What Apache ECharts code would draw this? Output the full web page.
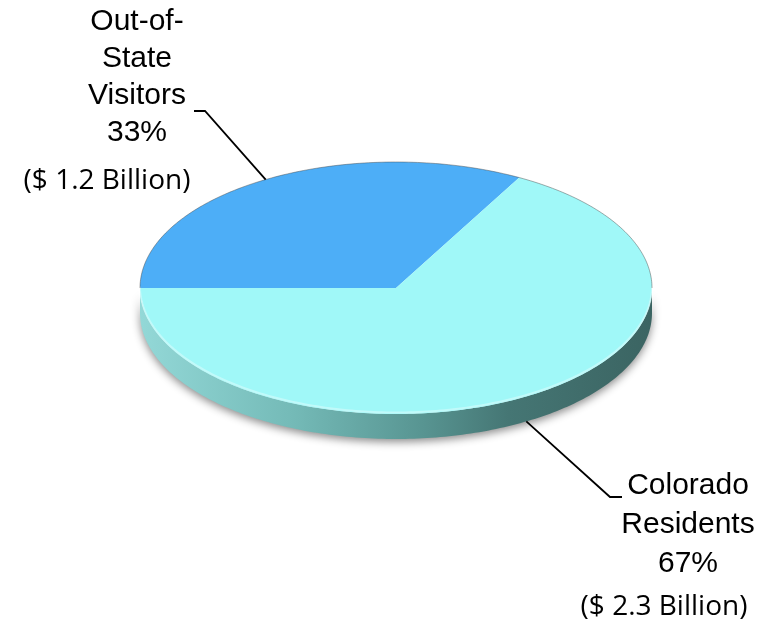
<!DOCTYPE html>
<html><head><meta charset="utf-8">
<script src="https://cdn.jsdelivr.net/npm/echarts@6/dist/echarts.min.js"></script>
<style>html,body{margin:0;padding:0;background:#fff}#c{width:778px;height:619px}</style>
</head><body><div id="c"></div>
<script>
const categories = ['Out-of-State Visitors', 'Colorado Residents'];
const labelNames = ['Out-of-\nState\nVisitors', 'Colorado\nResidents'];
const shares = [33, 67];
const amounts = [1.2, 2.3]; // $ billion
const colors = ['#4daef7', '#a0f8f8'];

const chart = echarts.init(document.getElementById('c'), null, {renderer: 'canvas'});
const CX = 396, CY = 288, RX = 256, RY = 126, DEPTH = 25;
const total = shares.reduce((s, v) => s + v, 0);
const startRad = Math.PI;
const layouts = [
  {elbow: [205, 111], end: [194, 111], text: [137, 3.5], lh: 37, money: [107, 181]},
  {elbow: [610, 497], end: [622, 497], text: [688, 466.5], lh: 39, money: [664, 607]}
];
function pt(t, d) { return [CX + RX * Math.cos(t), CY + RY * Math.sin(t) + (d || 0)]; }
function arc(a, b, d) {
  const n = Math.max(2, Math.ceil(Math.abs(b - a) / (Math.PI / 180)));
  const p = [];
  for (let i = 0; i <= n; i++) p.push(pt(a + (b - a) * i / n, d));
  return p;
}
const sideGrad = () => new echarts.graphic.LinearGradient(CX - RX, 0, CX + RX, 0, [
  {offset: 0, color: '#93d8d7'},
  {offset: 0.3, color: '#74bab7'},
  {offset: 0.55, color: '#589592'},
  {offset: 0.72, color: '#457674'},
  {offset: 1, color: '#3b6462'}
], true);

chart.setOption({
  animation: false,
  series: [{
    type: 'custom',
    coordinateSystem: 'none',
    silent: true,
    data: shares.map((v, i) => ({name: categories[i], value: [v]})),
    renderItem(params, api) {
      const i = params.dataIndex;
      const v = api.value(0);
      let before = 0;
      for (let k = 0; k < i; k++) before += shares[k];
      const a = startRad + before / total * 2 * Math.PI;
      const b = a + v / total * 2 * Math.PI;
      const children = [];
      for (let k = 0; k < 3; k++) {
        const lo = Math.max(a, 2 * Math.PI * k), hi = Math.min(b, 2 * Math.PI * k + Math.PI);
        if (hi > lo) {
          children.push({
            type: 'polygon', z2: 1,
            shape: {points: arc(lo, hi, 0).concat(arc(hi, lo, DEPTH))},
            style: {fill: sideGrad(), shadowBlur: 8, shadowColor: 'rgba(0,0,0,0.45)', shadowOffsetY: 3}
          });
          children.push({
            type: 'polyline', z2: 11,
            shape: {points: arc(lo, hi, -1.5)},
            style: {stroke: 'rgba(255,255,255,0.35)', lineWidth: 2, fill: null}
          });
        }
        const lo2 = Math.max(a, 2 * Math.PI * k - Math.PI), hi2 = Math.min(b, 2 * Math.PI * k);
        if (hi2 > lo2) {
          children.push({
            type: 'polyline', z2: 12,
            shape: {points: arc(lo2, hi2, 0)},
            style: {stroke: 'rgba(70,70,70,0.45)', lineWidth: 1, fill: null}
          });
        }
      }
      children.push({
        type: 'polygon', z2: 10,
        shape: {points: [[CX, CY]].concat(arc(a, b, 0))},
        style: {fill: colors[i]}
      });
      const m = (a + b) / 2;
      const start = pt(m, Math.sin(m) > 0 ? DEPTH : 0);
      const L = layouts[i];
      children.push({
        type: 'polyline', z2: 20,
        shape: {points: [start, L.elbow, L.end]},
        style: {stroke: '#000', lineWidth: 1.8, fill: null}
      });
      children.push({
        type: 'text', z2: 20,
        style: {
          text: labelNames[i] + '\n' + v + '%',
          x: L.text[0], y: L.text[1],
          align: 'center', verticalAlign: 'top',
          font: '30px "Liberation Sans", Arial, sans-serif',
          lineHeight: L.lh, fill: '#000'
        }
      });
      children.push({
        type: 'text', z2: 20,
        style: {
          text: '($ ' + amounts[i].toFixed(1) + ' Billion)',
          x: L.money[0], y: L.money[1],
          align: 'center', verticalAlign: 'middle',
          font: '28px "Open Sans", sans-serif', fill: '#000'
        }
      });
      return {type: 'group', children};
    }
  }]
});
</script></body></html>
